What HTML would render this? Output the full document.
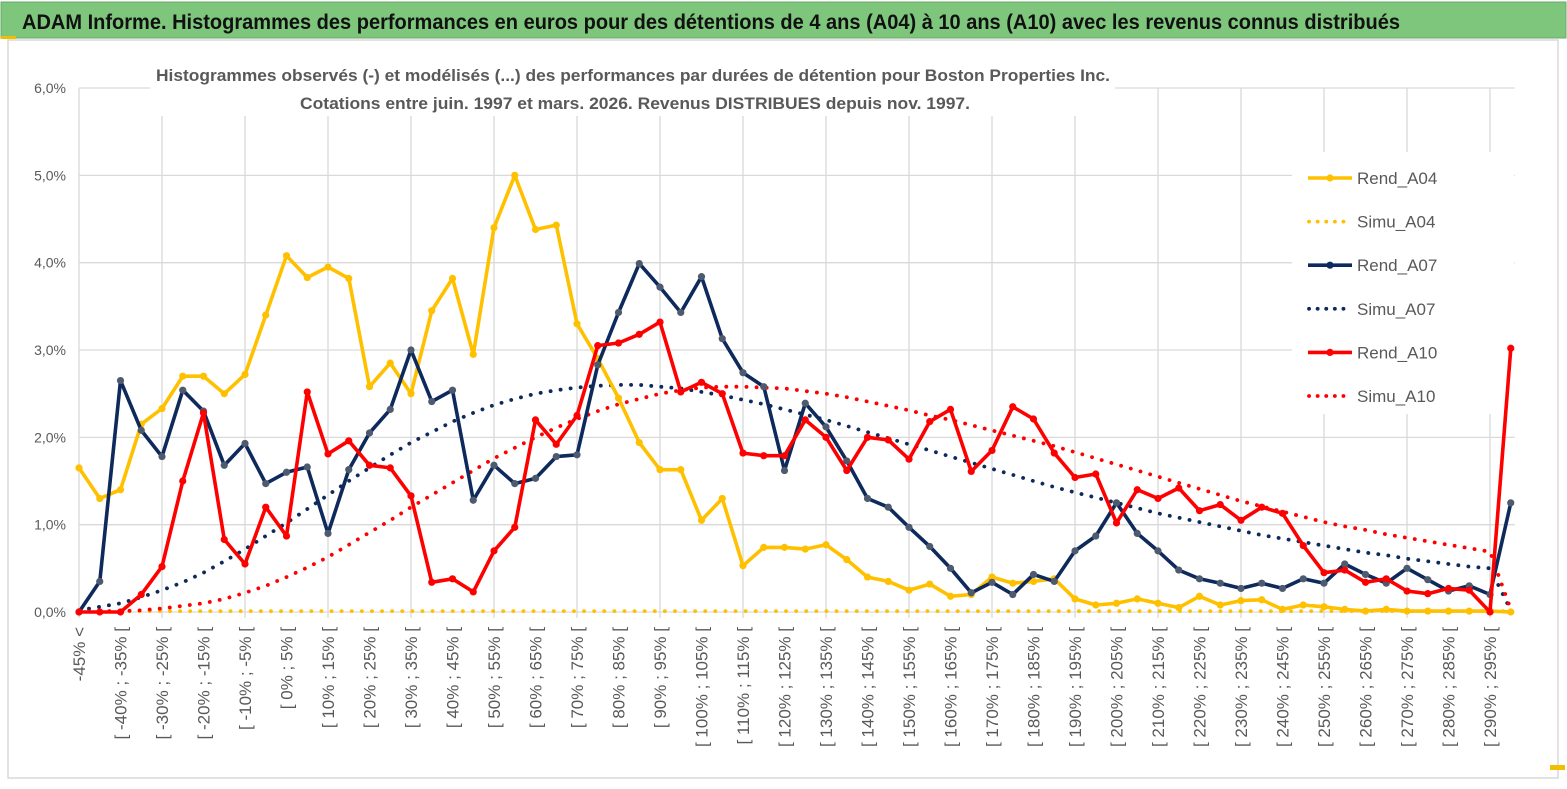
<!DOCTYPE html>
<html><head><meta charset="utf-8"><style>
html,body{margin:0;padding:0;background:#fff;}
svg{display:block;font-family:"Liberation Sans",sans-serif;}
</style></head><body>
<svg id="chart" width="1567" height="789" viewBox="0 0 1567 789">
<rect x="0" y="0" width="1567" height="789" fill="#fff"/>
<rect x="8" y="40" width="1550" height="738" fill="none" stroke="#d9d9d9" stroke-width="1.5"/>
<rect x="1" y="2" width="1565" height="36" fill="#7dc67c" stroke="#6aa86a"/>
<rect x="1" y="36" width="15" height="3" fill="#f0c000"/>
<rect x="1550" y="765" width="15" height="5" fill="#f0c000"/>
<text x="22" y="29" font-size="21" font-weight="bold" fill="#111" textLength="1378" lengthAdjust="spacingAndGlyphs">ADAM Informe. Histogrammes des performances en euros pour des détentions de 4 ans (A04) à 10 ans (A10) avec les revenus connus distribués</text>
<g id="grid"></g>
<rect x="150" y="58" width="965" height="58" fill="#fff"/>
<rect x="1292" y="152" width="222" height="262" fill="#fff"/>
<text x="156" y="81" font-size="17" font-weight="bold" fill="#595959" textLength="954" lengthAdjust="spacingAndGlyphs">Histogrammes observés (-) et modélisés (...) des performances par durées de détention pour Boston Properties Inc.</text>
<text x="300" y="109" font-size="17" font-weight="bold" fill="#595959" textLength="670" lengthAdjust="spacingAndGlyphs">Cotations entre juin. 1997 et mars. 2026. Revenus DISTRIBUES depuis nov. 1997.</text>
<g id="yaxis"></g>
<g id="xaxis"></g>
<g id="series"></g>
<g id="legend"></g>
</svg>
<script>
const categories = [];
categories.push("-45% <");
for (let a = -45; a <= 295; a += 5) categories.push("[ " + a + "% ; " + (a + 5) + "% [");
const yTicks = [0, 1, 2, 3, 4, 5, 6];
const yTickLabels = ["0,0%", "1,0%", "2,0%", "3,0%", "4,0%", "5,0%", "6,0%"];
const rendA04 = [1.65,1.3,1.4,2.15,2.33,2.7,2.7,2.5,2.72,3.4,4.08,3.83,3.95,3.82,2.58,2.85,2.5,3.45,3.82,2.95,4.4,5.0,4.38,4.43,3.3,2.9,2.45,1.94,1.63,1.63,1.05,1.3,0.53,0.74,0.74,0.72,0.77,0.6,0.4,0.35,0.25,0.32,0.18,0.2,0.4,0.33,0.35,0.38,0.15,0.08,0.1,0.15,0.1,0.05,0.18,0.08,0.13,0.14,0.03,0.08,0.06,0.03,0.01,0.03,0.01,0.01,0.01,0.01,0.01,0.0];
const simuA04 = [0.01,0.01,0.01,0.01,0.01,0.01,0.01,0.01,0.01,0.01,0.01,0.01,0.01,0.01,0.01,0.01,0.01,0.01,0.01,0.01,0.01,0.01,0.01,0.01,0.01,0.01,0.01,0.01,0.01,0.01,0.01,0.01,0.01,0.01,0.01,0.01,0.01,0.01,0.01,0.01,0.01,0.01,0.01,0.01,0.01,0.01,0.01,0.01,0.01,0.01,0.01,0.01,0.01,0.01,0.01,0.01,0.01,0.01,0.01,0.01,0.01,0.01,0.01,0.01,0.01,0.01,0.01,0.01,0.01,0.01];
const rendA07 = [0,0.35,2.65,2.08,1.78,2.54,2.3,1.68,1.93,1.47,1.6,1.66,0.9,1.63,2.05,2.32,3.0,2.41,2.54,1.28,1.68,1.47,1.53,1.78,1.8,2.83,3.43,3.99,3.72,3.43,3.84,3.13,2.74,2.58,1.62,2.39,2.12,1.73,1.3,1.2,0.97,0.75,0.5,0.22,0.34,0.2,0.43,0.35,0.7,0.87,1.25,0.9,0.7,0.48,0.38,0.33,0.27,0.33,0.27,0.38,0.33,0.55,0.43,0.33,0.5,0.37,0.24,0.3,0.2,1.25];
const simuA07 = [0.02,0.06,0.1,0.17,0.25,0.34,0.45,0.58,0.72,0.87,1.02,1.18,1.34,1.5,1.65,1.8,1.94,2.06,2.18,2.28,2.37,2.44,2.5,2.54,2.57,2.59,2.6,2.6,2.58,2.56,2.52,2.48,2.43,2.38,2.32,2.26,2.2,2.13,2.06,1.99,1.92,1.85,1.78,1.71,1.64,1.57,1.5,1.43,1.37,1.31,1.25,1.19,1.13,1.08,1.03,0.98,0.93,0.88,0.84,0.8,0.76,0.72,0.68,0.65,0.61,0.58,0.55,0.52,0.5,0.02];
const rendA10 = [0,0,0,0.2,0.52,1.5,2.28,0.83,0.55,1.2,0.87,2.52,1.81,1.96,1.68,1.65,1.33,0.34,0.38,0.23,0.7,0.97,2.2,1.92,2.25,3.05,3.08,3.18,3.32,2.52,2.63,2.5,1.82,1.79,1.79,2.2,2.0,1.62,2.0,1.97,1.75,2.18,2.32,1.61,1.85,2.35,2.21,1.82,1.54,1.58,1.02,1.4,1.3,1.42,1.16,1.23,1.05,1.2,1.13,0.76,0.45,0.48,0.34,0.38,0.24,0.21,0.27,0.25,0.0,3.02];
const simuA10 = [0,0.01,0.01,0.02,0.04,0.07,0.1,0.15,0.22,0.3,0.4,0.51,0.63,0.77,0.91,1.05,1.2,1.34,1.48,1.62,1.76,1.88,2.0,2.11,2.21,2.3,2.38,2.44,2.5,2.54,2.57,2.58,2.58,2.57,2.56,2.53,2.5,2.46,2.41,2.36,2.31,2.25,2.2,2.14,2.08,2.02,1.96,1.9,1.83,1.76,1.69,1.62,1.55,1.48,1.41,1.34,1.27,1.21,1.15,1.09,1.03,0.98,0.94,0.89,0.85,0.81,0.77,0.73,0.69,0.03];
const seriesNames = ["Rend_A04","Simu_A04","Rend_A07","Simu_A07","Rend_A10","Simu_A10"];

const NS = "http://www.w3.org/2000/svg";
const X0 = 79, STEP = 20.75, Y0 = 612, YUNIT = 87.33;
function xs(i){ return X0 + i * STEP; }
function ys(v){ return Y0 - v * YUNIT; }
function mk(tag, attrs, parent){ const e = document.createElementNS(NS, tag); for (const k in attrs) e.setAttribute(k, attrs[k]); parent.appendChild(e); return e; }

const grid = document.getElementById("grid");
yTicks.forEach((t, i) => {
  const l = mk("line", {x1: X0, x2: xs(categories.length - 1) + 4, y1: ys(t), y2: ys(t), stroke: "#d9d9d9", "stroke-width": 1.3}, grid);
  
  
});
for (let i = 0; i < categories.length; i += 4) {
  const l = mk("line", {x1: xs(i), x2: xs(i), y1: ys(6), y2: Y0 + 6, stroke: "#d9d9d9", "stroke-width": 1.3}, grid);
  
  
}

const yaxis = document.getElementById("yaxis");
yTicks.forEach((t, i) => {
  const tx = mk("text", {x: 66, y: ys(t) + 5, "font-size": 14, fill: "#595959", "text-anchor": "end"}, yaxis);
  tx.textContent = yTickLabels[i];
  
  
});

const xaxis = document.getElementById("xaxis");
for (let i = 0; i < categories.length; i += 2) {
  const x = xs(i) + 6;
  const tx = mk("text", {x: x, y: 627, "font-size": 17, fill: "#595959", "text-anchor": "end", transform: "rotate(-90 " + x + " 627)"}, xaxis);
  tx.textContent = categories[i];
  
  
}

const sg = document.getElementById("series");
function drawLine(vals, color, markerColor, name){
  const pts = vals.map((v, i) => xs(i).toFixed(1) + "," + ys(v).toFixed(1)).join(" ");
  const pl = mk("polyline", {points: pts, fill: "none", stroke: color, "stroke-width": 3.6, "stroke-linejoin": "round"}, sg);
  
  
  vals.forEach((v, i) => {
    const c = mk("circle", {cx: xs(i), cy: ys(v), r: 3.6, fill: markerColor}, sg);
    
    
  });
}
function drawDots(vals, color, name){
  const pts = vals.map((v, i) => xs(i).toFixed(1) + "," + ys(v).toFixed(1)).join(" ");
  const pl = mk("polyline", {points: pts, fill: "none", stroke: color, "stroke-width": 3.8, "stroke-dasharray": "0.1 10", "stroke-linecap": "round"}, sg);
  
  
}
drawDots(simuA04, "#ffc000", "simu-a04");
drawDots(simuA07, "#0e2a5c", "simu-a07");
drawDots(simuA10, "#ff0000", "simu-a10");
drawLine(rendA04, "#ffc000", "#ffc000", "rend-a04");
drawLine(rendA07, "#0e2a5c", "#4e5a6e", "rend-a07");
drawLine(rendA10, "#ff0000", "#ff0000", "rend-a10");

const lg = document.getElementById("legend");
const lColors = ["#ffc000","#ffc000","#0e2a5c","#0e2a5c","#ff0000","#ff0000"];
seriesNames.forEach((n, i) => {
  const y = 178 + i * 43.6;
  const g = mk("g", {}, lg);
  
  
  if (i % 2 === 0) {
    mk("line", {x1: 1308, x2: 1352, y1: y, y2: y, stroke: lColors[i], "stroke-width": 3.6}, g);
    mk("circle", {cx: 1330, cy: y, r: 3.6, fill: lColors[i]}, g);
  } else {
    mk("line", {x1: 1309, x2: 1352, y1: y, y2: y, stroke: lColors[i], "stroke-width": 3.8, "stroke-dasharray": "0.1 8.5", "stroke-linecap": "round"}, g);
  }
  const t = mk("text", {x: 1357, y: y + 6, "font-size": 17, fill: "#595959"}, g);
  t.textContent = n;
});
</script>
</body></html>
